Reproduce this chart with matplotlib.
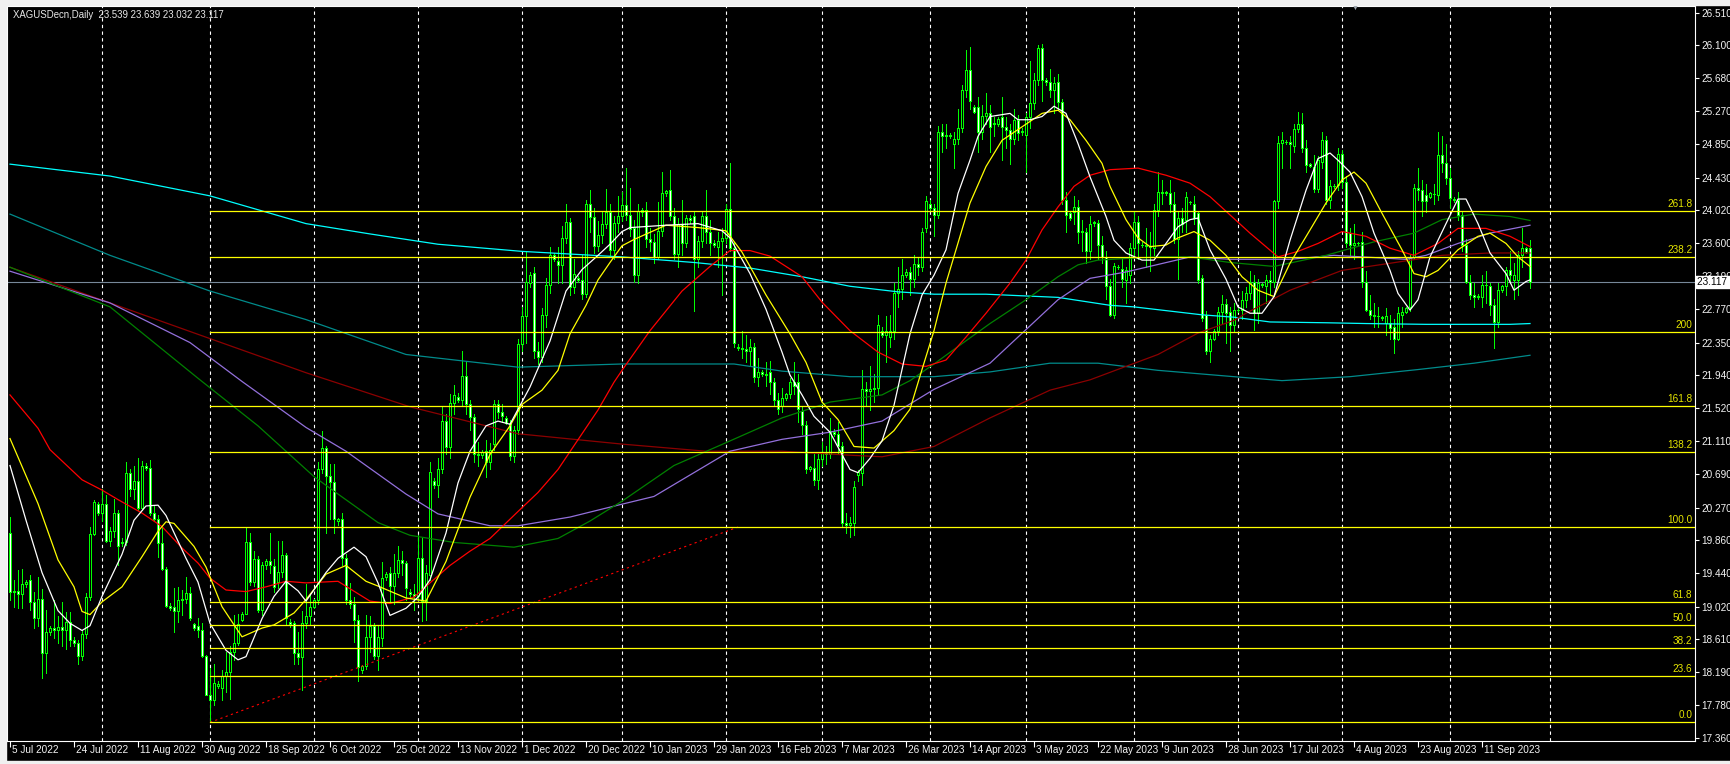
import numpy as np
import pandas as pd
import matplotlib
matplotlib.use("Agg")
import matplotlib.pyplot as plt
import matplotlib.transforms as mtransforms

plt.rcParams['font.family'] = ['Liberation Sans', 'DejaVu Sans']

# ---- bar calendar (broker has Sunday bars, no Saturdays) ----
days = pd.date_range("2022-07-05", "2023-10-01", freq="D")
closed = pd.to_datetime(["2022-12-25", "2023-01-01", "2023-04-07"])
days = days[(days.dayofweek != 5) & (~days.isin(closed))]

# ---- daily candles XAGUSD, 5 Jul 2022 .. 25 Sep 2023 ----
opens = [
    19.95, 19.20, 19.22, 19.18, 19.30, 19.35, 19.08, 18.88, 19.12, 18.44,
    18.70, 18.75, 18.72, 18.76, 18.73, 18.83, 18.60, 18.56, 18.40, 18.68,
    19.14, 19.94, 20.32, 20.20, 20.32, 19.85, 19.98, 20.20, 19.82, 19.84,
    20.70, 20.51, 20.60, 20.26, 20.80, 20.77, 20.20, 20.12, 19.82, 19.49,
    19.03, 19.01, 18.97, 19.10, 19.12, 19.19, 18.80, 18.78, 18.72, 18.40,
    17.91, 17.84, 18.02, 18.00, 18.15, 18.20, 18.45, 18.56, 18.85, 18.93,
    19.83, 19.33, 19.62, 18.98, 19.55, 19.60, 19.53, 19.33, 19.46, 19.67,
    18.83, 18.82, 18.43, 18.38, 18.82, 18.90, 19.02, 19.10, 20.76, 21.02,
    20.67, 20.59, 20.10, 20.12, 19.63, 19.10, 19.05, 18.85, 18.22, 18.27,
    18.64, 18.78, 18.40, 18.62, 19.40, 19.45, 19.28, 19.45, 19.61, 19.57,
    19.20, 19.18, 19.15, 19.63, 19.09, 19.42, 20.60, 20.55, 20.76, 21.36,
    21.03, 21.59, 21.66, 21.62, 21.93, 21.57, 21.41, 20.94, 20.93, 20.98,
    20.85, 21.07, 21.57, 21.48, 21.40, 21.34, 20.92, 21.25, 22.33, 22.69,
    23.10, 23.23, 22.24, 22.17, 22.70, 23.07, 23.45, 23.38, 23.33, 23.67,
    23.87, 23.05, 23.16, 23.14, 22.96, 24.10, 23.93, 23.57, 23.71, 23.84,
    24.00, 23.52, 23.86, 23.94, 24.08, 23.96, 23.80, 23.20, 24.00, 24.02,
    23.65, 23.62, 23.43, 23.76, 24.23, 24.27, 23.94, 23.47, 23.85, 23.60,
    23.92, 23.95, 23.40, 23.63, 23.94, 23.75, 23.60, 23.56, 23.63, 23.67,
    24.03, 23.54, 22.30, 22.28, 22.27, 22.24, 22.30, 21.92, 21.98, 21.95,
    21.98, 21.85, 21.63, 21.55, 21.65, 21.70, 21.85, 21.85, 21.49, 21.31,
    20.76, 20.77, 20.62, 20.88, 20.97, 20.95, 21.22, 21.20, 21.04, 20.08,
    20.05, 20.07, 20.68, 20.70, 21.76, 21.74, 21.76, 21.78, 22.50, 22.45,
    22.42, 22.50, 22.97, 23.02, 23.20, 23.24, 23.15, 23.34, 23.30, 23.80,
    24.10, 24.05, 23.96, 25.00, 24.95, 24.96, 24.85, 24.92, 25.05, 25.54,
    25.79, 25.32, 25.32, 25.01, 25.21, 25.24, 25.12, 25.10, 25.20, 25.07,
    25.03, 24.92, 25.16, 25.00, 24.97, 25.20, 25.37, 25.66, 26.06, 25.66,
    25.64, 25.54, 25.64, 25.38, 24.15, 23.98, 24.00, 24.06, 23.75, 23.75,
    23.50, 23.86, 23.86, 23.58, 23.43, 23.06, 22.70, 23.30, 23.28, 23.14,
    23.20, 23.54, 23.87, 23.58, 23.58, 23.57, 23.54, 24.02, 24.25, 24.24,
    24.24, 24.10, 23.66, 23.92, 23.90, 24.12, 24.10, 23.99, 23.16, 22.70,
    22.24, 22.40, 22.50, 22.74, 22.84, 22.74, 22.57, 22.76, 22.76, 22.89,
    22.97, 23.12, 22.72, 23.08, 23.06, 23.14, 23.12, 24.13, 24.87, 24.88,
    24.88, 24.83, 25.04, 25.11, 24.80, 24.60, 24.57, 24.29, 24.63, 24.90,
    24.15, 24.32, 24.34, 24.73, 24.38, 23.73, 23.58, 23.60, 23.62, 23.12,
    22.76, 22.70, 22.69, 22.67, 22.60, 22.60, 22.55, 22.40, 22.70, 22.74,
    22.80, 23.43, 24.30, 24.28, 24.21, 24.19, 24.22, 24.21, 24.72, 24.61,
    24.42, 24.15, 24.15, 23.96, 23.58, 23.12, 22.95, 22.93, 22.93, 23.08,
    23.06, 22.82, 22.61, 23.01, 23.06, 23.27, 23.14, 23.14, 23.45, 23.54,
    23.539,
]
highs = [
    20.15, 19.35, 19.48, 19.50, 19.36, 19.42, 19.20, 19.40, 19.24, 18.98,
    18.78, 19.10, 18.90, 19.08, 18.95, 18.95, 18.64, 18.60, 18.72, 19.19,
    20.03, 20.37, 20.34, 20.50, 20.43, 20.03, 20.38, 20.24, 19.88, 20.85,
    20.75, 20.80, 20.90, 20.86, 20.83, 20.87, 20.30, 20.18, 20.03, 19.52,
    19.06, 19.25, 19.27, 19.23, 19.40, 19.27, 18.82, 18.88, 18.81, 18.41,
    18.25, 18.30, 18.08, 18.22, 18.45, 18.52, 18.92, 18.93, 18.95, 20.01,
    19.95, 19.72, 19.66, 19.58, 19.62, 19.95, 19.62, 19.85, 19.85, 19.70,
    18.86, 18.84, 18.70, 18.96, 19.30, 19.18, 19.12, 20.85, 21.23, 21.05,
    20.82, 20.82, 20.14, 20.20, 19.68, 19.32, 19.14, 18.92, 18.28, 18.92,
    18.90, 18.82, 18.78, 19.58, 19.46, 19.52, 19.68, 19.78, 19.72, 19.60,
    19.24, 19.30, 19.92, 19.88, 19.55, 20.85, 20.64, 20.90, 21.55, 21.45,
    21.70, 21.82, 21.72, 22.24, 22.12, 21.62, 21.45, 21.10, 20.99, 21.12,
    21.08, 21.62, 21.62, 21.58, 21.42, 21.38, 21.30, 22.40, 22.80, 23.50,
    23.24, 23.30, 22.36, 22.78, 23.16, 23.55, 23.48, 23.55, 23.82, 24.10,
    23.92, 23.40, 23.19, 23.45, 24.15, 24.28, 24.05, 23.88, 24.00, 24.29,
    24.10, 23.95, 24.20, 24.25, 24.55, 24.30, 23.90, 24.10, 24.05, 24.12,
    23.80, 23.72, 24.12, 24.50, 24.28, 24.52, 24.05, 23.92, 24.15, 23.96,
    23.96, 24.00, 23.70, 24.00, 24.28, 23.90, 23.64, 23.75, 23.80, 24.10,
    24.61, 23.62, 22.33, 22.50, 22.45, 22.40, 22.35, 22.15, 22.00, 22.10,
    22.12, 21.90, 21.72, 21.78, 21.72, 21.90, 22.10, 21.95, 21.55, 21.36,
    20.80, 20.95, 20.95, 21.10, 21.05, 21.40, 21.26, 21.35, 21.10, 20.20,
    20.15, 20.60, 20.74, 22.00, 21.85, 22.05, 21.95, 22.70, 22.55, 22.68,
    22.70, 23.10, 23.30, 23.40, 23.28, 23.30, 23.45, 23.42, 23.80, 24.20,
    24.15, 24.10, 25.08, 25.10, 25.10, 24.99, 25.00, 25.30, 25.60, 26.04,
    26.08, 25.35, 25.45, 25.35, 25.50, 25.35, 25.20, 25.19, 25.45, 25.20,
    25.10, 25.30, 25.22, 25.05, 25.25, 25.90, 25.75, 26.10, 26.12, 25.68,
    25.80, 25.70, 25.74, 25.42, 24.25, 24.00, 24.20, 24.15, 23.90, 23.80,
    23.95, 23.88, 23.90, 23.70, 23.50, 23.15, 23.35, 23.33, 23.40, 23.30,
    23.60, 24.00, 23.95, 23.62, 23.80, 23.75, 24.10, 24.50, 24.40, 24.26,
    24.40, 24.25, 24.00, 24.05, 24.25, 24.14, 24.20, 24.00, 23.20, 22.75,
    22.45, 22.52, 22.80, 22.95, 22.90, 22.80, 22.85, 22.78, 23.00, 23.05,
    23.25, 23.20, 23.15, 23.10, 23.20, 23.25, 24.15, 24.95, 25.00, 24.90,
    24.95, 25.10, 25.26, 25.25, 24.90, 24.62, 24.72, 24.70, 25.00, 24.95,
    24.40, 24.35, 24.80, 24.78, 24.45, 23.80, 23.85, 23.62, 23.75, 23.25,
    22.95, 22.85, 22.80, 22.69, 22.78, 22.70, 22.65, 22.80, 22.80, 22.80,
    23.45, 24.35, 24.55, 24.40, 24.35, 24.25, 24.35, 25.00, 24.95, 24.85,
    24.55, 24.18, 24.25, 24.00, 23.65, 23.20, 23.10, 22.96, 23.20, 23.25,
    23.10, 22.90, 23.10, 23.08, 23.30, 23.50, 23.35, 23.50, 23.80, 23.56,
    23.639,
]
lows = [
    19.10, 19.02, 19.00, 19.00, 19.27, 18.98, 18.75, 18.78, 18.12, 18.18,
    18.66, 18.62, 18.56, 18.52, 18.48, 18.52, 18.52, 18.30, 18.35, 18.63,
    19.10, 19.92, 20.18, 20.10, 19.84, 19.78, 19.90, 19.55, 19.78, 19.80,
    20.41, 20.38, 20.24, 20.24, 20.74, 20.18, 20.10, 19.65, 19.48, 19.02,
    18.98, 18.70, 18.83, 18.92, 19.06, 18.85, 18.72, 18.64, 18.38, 17.90,
    17.56, 17.78, 17.99, 17.84, 17.95, 17.85, 18.35, 18.54, 18.84, 18.93,
    19.29, 19.28, 18.95, 18.92, 19.50, 19.45, 19.20, 19.25, 19.40, 18.80,
    18.76, 18.30, 18.30, 17.97, 18.75, 18.80, 19.00, 19.05, 20.70, 19.95,
    20.12, 19.95, 20.05, 19.55, 19.05, 19.00, 18.57, 18.08, 18.18, 18.24,
    18.45, 18.36, 18.22, 18.52, 19.36, 19.08, 19.05, 19.40, 19.42, 19.10,
    19.14, 18.98, 19.10, 18.84, 18.85, 19.36, 20.52, 20.40, 20.70, 20.95,
    20.90, 21.45, 21.60, 21.55, 21.45, 21.25, 20.85, 20.80, 20.90, 20.65,
    20.75, 21.00, 21.40, 21.35, 21.32, 20.87, 20.85, 21.20, 22.25, 22.35,
    23.05, 22.15, 22.08, 22.10, 22.55, 22.98, 23.38, 23.10, 23.10, 23.60,
    22.95, 22.98, 23.12, 22.90, 22.92, 23.75, 23.48, 23.50, 23.60, 23.80,
    23.45, 23.40, 23.75, 23.88, 23.90, 23.70, 23.12, 23.10, 23.95, 23.55,
    23.50, 23.35, 23.40, 23.70, 24.20, 23.90, 23.40, 23.30, 23.45, 23.55,
    23.86, 22.75, 23.30, 23.55, 23.60, 23.45, 23.55, 23.30, 22.95, 23.60,
    23.50, 22.30, 22.26, 22.15, 22.10, 22.05, 21.85, 21.80, 21.93, 21.80,
    21.70, 21.55, 21.45, 21.48, 21.62, 21.65, 21.70, 21.35, 21.20, 20.70,
    20.73, 20.55, 20.50, 20.80, 20.82, 20.90, 21.17, 20.95, 20.02, 19.95,
    19.90, 19.92, 20.60, 20.55, 21.55, 21.50, 21.60, 21.70, 22.42, 22.10,
    22.30, 22.40, 22.80, 22.90, 23.18, 22.95, 23.05, 23.20, 23.25, 23.75,
    24.02, 23.70, 23.92, 24.75, 24.80, 24.93, 24.55, 24.85, 25.00, 25.45,
    25.30, 25.24, 24.75, 24.92, 25.10, 24.75, 24.95, 25.08, 24.65, 24.80,
    24.60, 24.85, 24.90, 24.97, 24.50, 25.05, 25.30, 25.60, 25.40, 25.60,
    25.45, 25.25, 25.30, 24.10, 23.75, 23.90, 23.85, 23.60, 23.50, 23.35,
    23.40, 23.82, 23.40, 23.35, 22.90, 22.68, 22.66, 23.28, 23.05, 22.85,
    23.10, 23.45, 23.40, 23.55, 23.30, 23.25, 23.45, 23.95, 24.10, 24.21,
    24.00, 23.60, 23.15, 23.75, 23.75, 24.10, 23.85, 23.10, 22.62, 22.20,
    22.10, 22.38, 22.45, 22.60, 22.35, 22.25, 22.50, 22.74, 22.65, 22.80,
    22.90, 22.51, 22.60, 23.05, 22.85, 22.95, 23.05, 24.05, 24.55, 24.85,
    24.55, 24.75, 25.00, 24.75, 24.50, 24.56, 24.25, 24.25, 24.55, 24.10,
    24.05, 24.30, 24.28, 24.30, 23.55, 23.45, 23.40, 23.58, 23.05, 22.75,
    22.65, 22.55, 22.55, 22.64, 22.45, 22.40, 22.22, 22.38, 22.55, 22.72,
    22.75, 23.40, 24.15, 23.95, 24.00, 24.17, 24.10, 24.15, 24.50, 24.35,
    24.05, 24.12, 23.90, 23.50, 23.10, 22.90, 22.80, 22.90, 22.80, 22.85,
    22.70, 22.28, 22.55, 22.99, 22.95, 23.10, 22.90, 22.95, 23.30, 23.48,
    23.032,
]
closes = [
    19.20, 19.22, 19.18, 19.30, 19.33, 19.08, 18.88, 19.12, 18.44, 18.70,
    18.75, 18.72, 18.76, 18.73, 18.83, 18.60, 18.56, 18.40, 18.68, 19.14,
    19.94, 20.34, 20.20, 20.32, 19.85, 19.98, 20.20, 19.78, 19.84, 20.70,
    20.51, 20.60, 20.26, 20.80, 20.77, 20.20, 20.12, 19.82, 19.49, 19.03,
    19.00, 18.97, 19.10, 19.12, 19.19, 18.88, 18.75, 18.72, 18.40, 17.91,
    17.84, 18.06, 18.05, 18.15, 18.20, 18.45, 18.56, 18.80, 18.93, 19.83,
    19.33, 19.62, 18.98, 19.55, 19.60, 19.55, 19.27, 19.46, 19.67, 18.88,
    18.80, 18.43, 18.38, 18.82, 18.90, 19.02, 19.10, 20.76, 21.02, 20.67,
    20.59, 20.13, 20.12, 19.63, 19.10, 19.05, 18.85, 18.26, 18.27, 18.64,
    18.78, 18.40, 18.64, 19.38, 19.43, 19.28, 19.45, 19.61, 19.57, 19.25,
    19.18, 19.15, 19.63, 19.09, 19.45, 20.72, 20.55, 20.76, 21.36, 21.03,
    21.59, 21.69, 21.62, 21.93, 21.57, 21.41, 20.94, 20.93, 20.97, 20.85,
    21.00, 21.57, 21.48, 21.42, 21.34, 20.92, 21.25, 22.33, 22.69, 23.12,
    23.20, 22.24, 22.17, 22.70, 23.07, 23.45, 23.40, 23.33, 23.67, 23.87,
    23.05, 23.21, 23.14, 22.96, 24.10, 23.93, 23.57, 23.71, 23.84, 24.00,
    23.52, 23.86, 23.94, 24.08, 23.96, 23.78, 23.20, 24.01, 24.02, 23.65,
    23.62, 23.43, 23.76, 24.23, 24.26, 23.94, 23.47, 23.85, 23.60, 23.92,
    23.90, 23.40, 23.63, 23.94, 23.75, 23.60, 23.58, 23.63, 23.67, 24.03,
    23.54, 22.35, 22.28, 22.27, 22.24, 22.30, 21.92, 21.98, 21.95, 21.94,
    21.85, 21.63, 21.51, 21.65, 21.70, 21.85, 21.80, 21.51, 21.31, 20.75,
    20.78, 20.62, 20.88, 20.97, 20.95, 21.24, 21.20, 21.04, 20.08, 20.05,
    20.07, 20.53, 20.72, 21.76, 21.74, 21.76, 21.78, 22.57, 22.45, 22.50,
    22.50, 22.97, 23.02, 23.20, 23.24, 23.15, 23.34, 23.30, 23.74, 24.13,
    24.05, 23.96, 25.00, 24.95, 24.97, 24.96, 24.92, 25.05, 25.54, 25.79,
    25.39, 25.26, 25.01, 25.21, 25.24, 25.07, 25.10, 25.17, 25.07, 25.03,
    24.92, 25.16, 24.99, 25.02, 25.20, 25.37, 25.66, 26.06, 25.66, 25.64,
    25.54, 25.62, 25.38, 24.15, 23.96, 23.92, 24.06, 23.75, 23.75, 23.50,
    23.85, 23.86, 23.58, 23.43, 23.06, 22.70, 23.31, 23.30, 23.15, 23.27,
    23.54, 23.87, 23.60, 23.58, 23.57, 23.56, 24.02, 24.25, 24.23, 24.24,
    24.10, 23.66, 23.92, 23.85, 24.19, 24.12, 23.92, 23.14, 22.66, 22.24,
    22.40, 22.50, 22.74, 22.84, 22.72, 22.57, 22.76, 22.76, 22.89, 22.97,
    23.12, 22.72, 23.10, 23.08, 23.14, 23.12, 24.13, 24.87, 24.90, 24.88,
    24.85, 25.04, 25.11, 24.80, 24.59, 24.58, 24.29, 24.65, 24.90, 24.15,
    24.32, 24.33, 24.73, 24.38, 23.60, 23.58, 23.60, 23.60, 23.12, 22.76,
    22.70, 22.69, 22.68, 22.66, 22.68, 22.53, 22.40, 22.72, 22.74, 22.78,
    23.43, 24.30, 24.28, 24.13, 24.13, 24.23, 24.22, 24.72, 24.61, 24.42,
    24.17, 24.15, 23.96, 23.58, 23.12, 22.95, 22.92, 22.93, 23.08, 23.07,
    22.82, 22.61, 23.01, 23.06, 23.27, 23.20, 23.20, 23.45, 23.54, 23.49,
    23.117,
]

# ---- moving averages, sampled along the chart (bar index, price) ----
white_x = [0, 4, 8, 12, 15, 18, 20, 23, 28, 31, 34, 37, 39, 44, 47, 50, 54, 57, 59, 63,
           66, 69, 72, 74, 79, 82, 86, 89, 92, 95, 99, 102, 105, 109, 112, 115, 119, 122,
           125, 130, 135, 139, 143, 147, 150, 153, 155, 164, 172, 178, 180, 185, 189, 193,
           195, 198, 201, 205, 210, 212, 215, 218, 221, 225, 228, 231, 234, 237, 240, 242,
           245, 250, 252, 255, 258, 261, 264, 267, 270, 274, 276, 279, 283, 286, 289, 292,
           295, 297, 300, 304, 307, 310, 313, 316, 320, 324, 327, 330, 332, 335, 338, 341,
           345, 347, 350, 352, 355, 359, 362, 364, 367, 370, 374, 376, 379, 380]
white_y = [20.80, 20.11, 19.45, 18.97, 18.81, 18.72, 18.78, 19.15, 19.68, 20.11, 20.29,
           20.30, 20.17, 19.63, 19.33, 18.81, 18.47, 18.35, 18.39, 18.87, 19.15, 19.34,
           19.22, 19.09, 19.45, 19.63, 19.77, 19.65, 19.32, 18.91, 19.00, 19.14, 19.36,
           19.95, 20.58, 20.98, 21.30, 21.36, 21.32, 21.79, 22.37, 23.00, 23.27, 23.45,
           23.59, 23.75, 23.80, 23.83, 23.85, 23.76, 23.67, 23.22, 22.77, 22.23, 21.94,
           21.69, 21.42, 21.22, 20.75, 20.71, 20.89, 21.11, 21.56, 22.46, 22.95, 23.20,
           23.52, 24.23, 24.65, 24.95, 25.20, 25.24, 25.16, 25.16, 25.20, 25.33, 25.24,
           24.86, 24.44, 23.94, 23.64, 23.48, 23.39, 23.39, 23.60, 23.81, 23.90, 23.92,
           23.52, 23.15, 22.80, 22.72, 22.72, 22.93, 23.64, 24.27, 24.67, 24.74, 24.65,
           24.50, 24.19, 23.73, 23.26, 22.97, 22.76, 22.89, 23.43, 23.85, 24.16, 24.16,
           23.85, 23.48, 23.22, 23.01, 23.12, 23.14]

yellow_x = [0, 7, 12, 16, 18, 20, 23, 28, 33, 37, 39, 41, 46, 49, 53, 58, 63, 66, 71, 74,
            79, 84, 89, 92, 99, 104, 109, 115, 120, 125, 128, 133, 137, 140, 144, 147, 150,
            153, 156, 164, 172, 179, 183, 189, 195, 199, 203, 207, 211, 216, 221, 225, 228,
            231, 234, 240, 244, 248, 253, 258, 262, 265, 269, 273, 275, 279, 282, 285, 289,
            292, 296, 300, 304, 308, 312, 316, 320, 325, 329, 333, 336, 339, 343, 348, 351,
            354, 357, 362, 367, 370, 374, 377, 380]
yellow_y = [21.14, 20.32, 19.61, 19.27, 18.96, 18.92, 19.08, 19.27, 19.65, 19.97, 20.09,
            20.07, 19.78, 19.52, 19.02, 18.64, 18.75, 18.79, 18.94, 19.11, 19.43, 19.54,
            19.34, 19.28, 19.13, 19.09, 19.59, 20.40, 20.94, 21.30, 21.57, 21.75, 22.00,
            22.46, 22.82, 23.14, 23.36, 23.57, 23.65, 23.83, 23.80, 23.76, 23.49, 22.95,
            22.46, 22.10, 21.60, 21.38, 21.04, 21.02, 21.24, 21.51, 22.01, 22.50, 23.10,
            24.11, 24.57, 24.90, 25.07, 25.24, 25.28, 25.16, 24.90, 24.61, 24.32, 23.90,
            23.67, 23.56, 23.58, 23.67, 23.75, 23.64, 23.45, 23.18, 23.01, 22.93, 23.35,
            23.77, 24.11, 24.40, 24.50, 24.36, 23.98, 23.52, 23.22, 23.18, 23.26, 23.52,
            23.69, 23.73, 23.60, 23.43, 23.31]

red_x = [0, 7, 10, 18, 23, 27, 33, 38, 43, 47, 50, 54, 59, 64, 69, 74, 82, 90, 95, 101,
         105, 110, 115, 120, 127, 132, 137, 141, 147, 151, 153, 160, 168, 175, 180, 185,
         190, 198, 203, 210, 217, 223, 229, 234, 239, 244, 250, 254, 258, 262, 266, 270,
         275, 282, 289, 295, 300, 305, 310, 317, 322, 327, 333, 339, 345, 351, 357, 362,
         369, 375, 380]
red_y = [21.69, 21.27, 21.00, 20.62, 20.49, 20.37, 20.20, 20.03, 19.76, 19.57, 19.38,
         19.23, 19.21, 19.27, 19.34, 19.32, 19.34, 19.09, 19.06, 19.14, 19.32, 19.54,
         19.72, 19.88, 20.22, 20.46, 20.75, 21.05, 21.50, 21.85, 22.00, 22.50, 23.00,
         23.31, 23.51, 23.51, 23.44, 23.18, 22.86, 22.50, 22.23, 22.08, 22.05, 22.13,
         22.42, 22.72, 23.10, 23.39, 23.77, 24.06, 24.32, 24.46, 24.53, 24.55, 24.46,
         24.36, 24.19, 23.96, 23.73, 23.43, 23.50, 23.60, 23.75, 23.69, 23.54, 23.45,
         23.60, 23.79, 23.79, 23.69, 23.56]

maroon_x = [0, 25, 50, 74, 100, 127, 153, 174, 193, 210, 218, 231, 245, 260, 270, 279,
            287, 297, 306, 309, 320, 333, 345, 358, 370, 380]
maroon_y = [23.30, 22.85, 22.40, 21.97, 21.54, 21.20, 21.07, 20.98, 20.98, 20.93, 20.91,
            21.04, 21.40, 21.75, 21.88, 22.05, 22.20, 22.47, 22.63, 22.72, 23.01, 23.26,
            23.35, 23.45, 23.48, 23.48]

green_x = [0, 25, 47, 62, 76, 82, 92, 100, 111, 126, 137, 145, 153, 166, 180, 193, 205,
           218, 225, 231, 237, 245, 254, 262, 267, 272, 279, 287, 295, 305, 316, 329, 341,
           351, 358, 366, 375, 380]
green_y = [23.30, 22.80, 21.90, 21.30, 20.66, 20.44, 20.08, 19.92, 19.83, 19.77, 19.88,
           20.10, 20.35, 20.80, 21.11, 21.40, 21.60, 21.69, 21.87, 22.08, 22.30, 22.59,
           22.89, 23.18, 23.33, 23.39, 23.41, 23.43, 23.43, 23.36, 23.31, 23.45, 23.62,
           23.73, 23.90, 23.97, 23.94, 23.89]

purple_x = [0, 25, 45, 58, 74, 84, 99, 107, 120, 127, 140, 152, 161, 180, 193, 205, 218,
            231, 245, 262, 270, 279, 295, 305, 320, 331, 349, 354, 362, 370, 380]
purple_y = [23.25, 22.85, 22.35, 21.86, 21.28, 20.98, 20.44, 20.19, 20.04, 20.04, 20.15,
            20.30, 20.41, 20.98, 21.13, 21.22, 21.36, 21.76, 22.09, 22.89, 23.16, 23.24,
            23.43, 23.40, 23.40, 23.45, 23.40, 23.45, 23.60, 23.73, 23.83]

cyan_x = [0, 25, 50, 74, 90, 107, 128, 153, 171, 185, 198, 210, 222, 231, 244, 262, 275,
          281, 298, 306, 315, 329, 339, 354, 375, 380]
cyan_y = [24.60, 24.45, 24.20, 23.85, 23.72, 23.59, 23.50, 23.43, 23.36, 23.29, 23.18,
          23.06, 22.99, 22.96, 22.96, 22.92, 22.82, 22.80, 22.70, 22.67, 22.61, 22.60,
          22.59, 22.58, 22.58, 22.59]

teal_x = [0, 25, 50, 74, 99, 127, 153, 181, 193, 210, 231, 245, 260, 272, 287, 306, 318,
          335, 352, 366, 380]
teal_y = [23.97, 23.45, 23.00, 22.64, 22.20, 22.04, 22.08, 22.08, 21.99, 21.92, 21.92,
          21.98, 22.09, 22.09, 22.00, 21.92, 21.87, 21.92, 22.01, 22.09, 22.19]

# ---- fibonacci retracement (anchor bars / prices) ----
fib_bar0, fib_bar1 = 50, 182
fib_lo, fib_hi = 17.561, 20.024
fib_ratios = [0.0, 0.236, 0.382, 0.5, 0.618, 1.0, 1.382, 1.618, 2.0, 2.382, 2.618]
fib_texts = ["0.0", "23.6", "38.2", "50.0", "61.8", "100.0", "138.2", "161.8", "200",
             "238.2", "261.8"]

price_ticks = ["17.360", "17.780", "18.190", "18.610", "19.020", "19.440", "19.860",
               "20.270", "20.690", "21.110", "21.520", "21.940", "22.350", "22.770",
               "23.190", "23.600", "24.020", "24.430", "24.850", "25.270", "25.680",
               "26.100", "26.510"]
last_price = 23.117
title = "XAGUSDecn,Daily  23.539 23.639 23.032 23.117"

LIME = "#00ff00"
W, H = 1730, 764
fig = plt.figure(figsize=(W / 100, H / 100), dpi=100, facecolor="black")
# window frame strips
for rect in [(0, 1 - 5 / H, 1, 5 / H), (0, 0, 1, 3 / H), (0, 0, 6 / W, 1)]:
    fig.patches.append(plt.Rectangle(rect[:2], rect[2], rect[3], transform=fig.transFigure,
                                     color="#f0f0f0", zorder=0))

ax = fig.add_axes([7 / W, (H - 740.7) / H, 1688 / W, 734.7 / H])
ax.set_facecolor("black")
ax.set_xlim(-0.75, 421.25)
ax.set_ylim(17.330, 26.594)
for s in ax.spines.values():
    s.set_color("white")
    s.set_linewidth(0.8)

n = len(closes)
x = np.arange(n)
o = np.array(opens); c = np.array(closes)
hi = np.array(highs); lo = np.array(lows)

# month grid
bar_days = days[:n + 6]
month_start = [i for i in range(1, len(bar_days)) if bar_days[i].month != bar_days[i - 1].month]
for m in month_start:
    ax.axvline(m, color="white", lw=0.8, ls=(0, (3, 3)), zorder=1)

# candles
ax.vlines(x, lo, hi, color=LIME, lw=0.72, zorder=3, antialiased=False)
body = np.where(np.abs(c - o) < 0.005, 0.005, c - o)
ax.bar(x, body, bottom=o, width=0.5, color=np.where(c >= o, "black", "white"),
       edgecolor=LIME, linewidth=0.72, zorder=4, antialiased=False)

# moving averages
ma = [(teal_x, teal_y, "#008b8b"), (cyan_x, cyan_y, "#00ffff"),
      (maroon_x, maroon_y, "#8b0000"), (purple_x, purple_y, "#9370db"),
      (green_x, green_y, "#008000"), (red_x, red_y, "#ff0000"),
      (yellow_x, yellow_y, "#ffff00"), (white_x, white_y, "#ffffff")]
for mx, my, col in ma:
    ax.plot(mx, my, color=col, lw=0.9, zorder=5)

# current price line
ax.axhline(last_price, color="#778899", lw=0.8, zorder=2)

# fibo
ax.plot([fib_bar0, fib_bar1], [fib_lo, fib_hi], color="#ff0000", lw=0.8,
        ls=(0, (2, 3)), zorder=6)
for r, t in zip(fib_ratios, fib_texts):
    p = fib_lo + r * (fib_hi - fib_lo)
    ax.plot([fib_bar0, 421.25], [p, p], color="#ffff00", lw=0.9, zorder=6)
    ax.text(420.6, p + 0.025, t, color="#e6e600", fontsize=7.2, ha="right", va="bottom",
            zorder=7)

# right price scale
ax.yaxis.tick_right()
ax.set_yticks([float(t) for t in price_ticks])
ax.set_yticklabels(price_ticks)
ax.tick_params(axis="y", colors="white", length=3, width=0.8, pad=1.5, labelsize=7.2,
               labelcolor="#f4f4f4")
trans = mtransforms.blended_transform_factory(ax.transAxes, ax.transData)
ax.text(1.0012, last_price, "23.117 ", transform=trans, ha="left", va="center",
        fontsize=7.2, color="black", clip_on=False, zorder=10,
        bbox=dict(boxstyle="square,pad=0.12", fc="white", ec="white"))

# time scale
label_bars = list(range(0, n, 16))
ax.set_xticks(label_bars)
ax.set_xticklabels([])
ax.tick_params(axis="x", colors="white", length=4, width=0.8)
for b in label_bars:
    d = bar_days[b]
    ax.text(b + 0.4, -0.0125, f"{d.day} {d.strftime('%b %Y')}", transform=ax.get_xaxis_transform(),
            ha="left", va="center", fontsize=7.2, color="#f4f4f4", clip_on=False)

fig.text(13 / W, 1 - 15 / H, title, color="#e8e8e8", fontsize=6.9, ha="left", va="center")
# chart shift marker
fig.text(1355 / W, 1 - 8 / H, "\u25bc", color="#a0a8b0", fontsize=5, ha="center", va="center")

fig.savefig("out.png", dpi=100, facecolor=fig.get_facecolor())
